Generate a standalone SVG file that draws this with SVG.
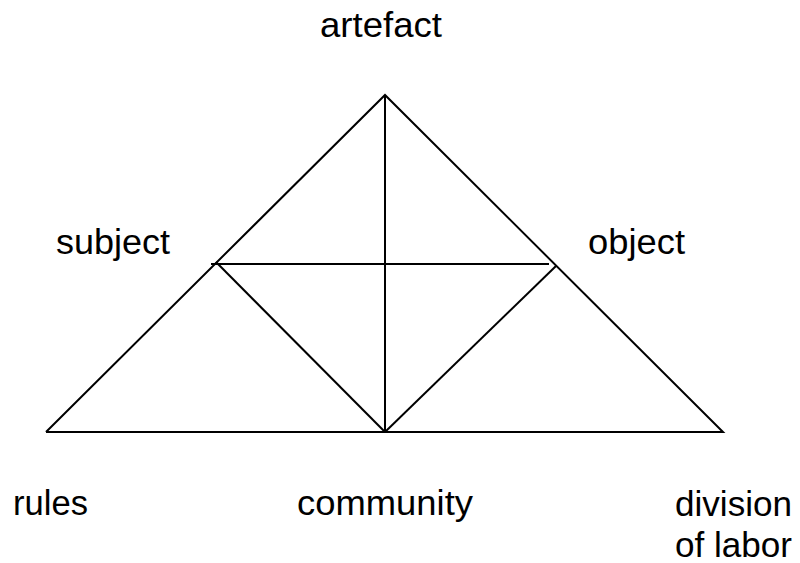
<svg xmlns="http://www.w3.org/2000/svg" width="800" height="563" viewBox="0 0 800 563">
<style>
.lbl{font-family:"Liberation Sans",Arial,sans-serif;font-size:35px;fill:#000}
.ln{stroke:#000;stroke-width:2;fill:none}
</style>
<rect width="800" height="563" fill="#fff"/>
<g id="connectors">
<polyline class="ln" points="46,432 385,95 723,432 46,432"/>
<line class="ln" x1="385" y1="95" x2="385" y2="432"/>
<line class="ln" x1="211" y1="264" x2="549" y2="264"/>
<line class="ln" x1="216" y1="262" x2="385" y2="432"/>
<line class="ln" x1="385" y1="432" x2="556" y2="266"/>
</g>
<g id="artefact"><text class="lbl" x="320" y="37" textLength="122" lengthAdjust="spacingAndGlyphs">artefact</text></g>
<g id="subject"><text class="lbl" x="56" y="254" textLength="114" lengthAdjust="spacingAndGlyphs">subject</text></g>
<g id="object"><text class="lbl" x="588" y="254" textLength="97" lengthAdjust="spacingAndGlyphs">object</text></g>
<g id="rules"><text class="lbl" x="13" y="515" textLength="75" lengthAdjust="spacingAndGlyphs">rules</text></g>
<g id="community"><text class="lbl" x="297" y="515" textLength="176" lengthAdjust="spacingAndGlyphs">community</text></g>
<g id="division"><text class="lbl" x="675" y="516" textLength="117" lengthAdjust="spacingAndGlyphs">division</text><text class="lbl" x="675" y="557" textLength="117" lengthAdjust="spacingAndGlyphs">of labor</text></g>
</svg>
